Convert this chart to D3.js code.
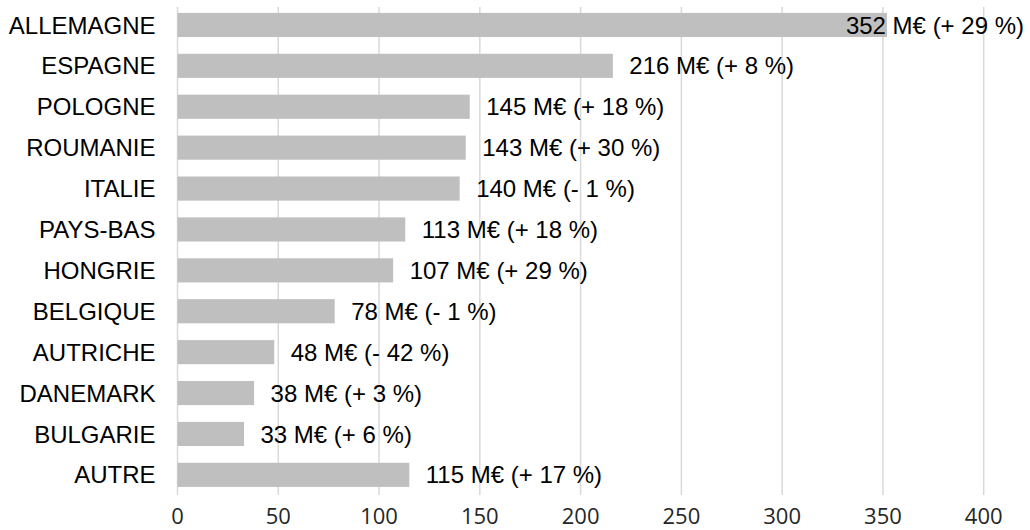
<!DOCTYPE html>
<html><head><meta charset="utf-8">
<script src="https://cdn.jsdelivr.net/npm/d3@7"></script>
<style>body{margin:0;background:#fff}svg{display:block}</style>
</head><body>
<svg id="c" width="1030" height="530"></svg>
<script>
const categories = ["ALLEMAGNE","ESPAGNE","POLOGNE","ROUMANIE","ITALIE","PAYS-BAS","HONGRIE","BELGIQUE","AUTRICHE","DANEMARK","BULGARIE","AUTRE"];
const values = [352,216,145,143,140,113,107,78,48,38,33,115];
const changes = ["+ 29 %","+ 8 %","+ 18 %","+ 30 %","- 1 %","+ 18 %","+ 29 %","- 1 %","- 42 %","+ 3 %","+ 6 %","+ 17 %"];
const tickValues = [0,50,100,150,200,250,300,350,400];

const svg = d3.select("#c");
const x = d3.scaleLinear().domain([0,400]).range([177.5,983.7]);
const y = d3.scaleBand().domain(categories).range([4.5,495.3]).paddingInner(0.41).paddingOuter(0.205);

// gridlines
svg.append("g").selectAll("line").data(tickValues).join("line")
  .attr("x1",d=>x(d)).attr("x2",d=>x(d)).attr("y1",7).attr("y2",495)
  .attr("stroke","#d9d9d9").attr("stroke-width",1.5);

// bars
svg.append("g").selectAll("rect").data(values).join("rect")
  .attr("x",x(0)).attr("y",(d,i)=>y(categories[i]))
  .attr("width",d=>x(d)-x(0)).attr("height",y.bandwidth())
  .attr("fill","#bfbfbf");

// category labels
svg.append("g").selectAll("text").data(categories).join("text")
  .attr("x",155.5).attr("y",d=>y(d)+y.bandwidth()/2).attr("dy","0.36em")
  .attr("text-anchor","end").attr("font-family","Liberation Sans, Arial, sans-serif")
  .attr("font-size",24).attr("fill","#000").text(d=>d);

// value labels
const vl = svg.append("g").selectAll("text").data(values).join("text")
  .attr("y",(d,i)=>y(categories[i])+y.bandwidth()/2).attr("dy","0.36em")
  .attr("font-family","Liberation Sans, Arial, sans-serif")
  .attr("font-size",24).attr("fill","#000")
  .text((d,i)=>`${d} M€ (${changes[i]})`);
vl.each(function(d){
  const w = this.getComputedTextLength();
  const xx = Math.min(x(d)+16.5, 1024 - w);
  d3.select(this).attr("x", xx);
});

// x axis tick labels
svg.append("g").selectAll("text").data(tickValues).join("text")
  .attr("x",d=>x(d)).attr("y",524).attr("text-anchor","middle")
  .attr("font-family","Open Sans, sans-serif").attr("font-size",22)
  .attr("fill","#262626").text(d=>d);
</script>
</body></html>
